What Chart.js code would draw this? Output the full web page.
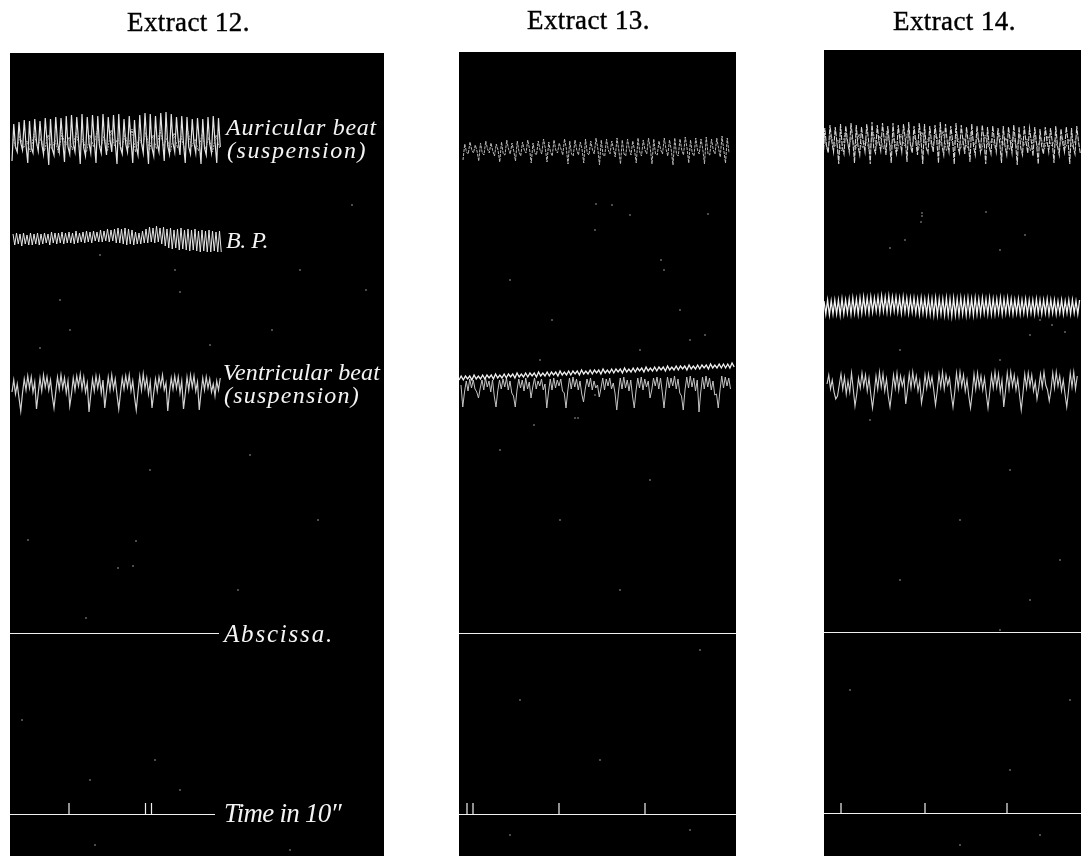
<!DOCTYPE html>
<html>
<head>
<meta charset="utf-8">
<title>Extracts 12, 13, 14</title>
<script src="https://cdn.jsdelivr.net/npm/chart.js@4"></script>
<style>
  html, body { margin: 0; padding: 0; background: #fff; overflow: hidden; }
  canvas { position: absolute; top: 0; }
</style>
</head>
<body>
<canvas id="extract12" width="374" height="856" style="left:10px"></canvas>
<canvas id="extract13" width="277" height="856" style="left:459px"></canvas>
<canvas id="extract14" width="257" height="856" style="left:824px"></canvas>
<script>
// all values, y is the height on the plate (down = bigger)

// Extract 12
const auricular12 = [161,124,147,152,122,143,150,120,145,163,121,148,153,119,142,151,121,144,154,118,141,165,119,149,155,117,143,152,118,141,162,116,147,154,115,144,152,117,140,164,114,148,156,117,143,153,115,141,163,116,146,153,114,142,155,117,139,152,115,143,164,114,148,154,119,144,152,116,141,163,120,147,155,115,143,153,113,141,164,114,148,156,116,144,152,113,140,161,112,146,154,114,143,152,117,141,155,116,144,163,117,147,154,119,143,153,118,141,164,119,148,155,117,144,153,116,142,163,118,147];
// the second, fainter line running through the middle of the auricular band
const auricularInner12 = [139,150,136,148,141,152,134,147,138,151,135,149,140,153,133,146,137,150,132,148,139,152,135,147,131,149,136,151,130,146,138,150,134,148,129,152,137,147,132,150,135,149,130,146,138,152,133,148,136,150,131,147,139,151,134,149,137,152,135,148];
const pressure12 = [234,245,233,244,234,246,233,244,235,245,233,245,234,244,233,245,234,244,233,243,234,245,232,243,233,244,233,243,232,244,233,243,232,243,233,244,231,243,233,242,232,243,231,242,232,243,231,241,232,242,230,242,231,241,229,242,230,241,229,243,228,243,229,244,228,245,229,244,230,245,232,244,233,244,231,243,229,243,227,242,228,243,226,242,228,244,227,246,229,248,228,249,230,248,229,250,228,249,230,250,229,251,230,250,229,251,231,252,230,251,231,252,230,252,231,251,232,252,231,252];
const ventricular12 = [392,380,394,384,398,411,393,379,390,376,388,377,392,382,409,393,378,391,375,387,377,390,380,396,408,392,377,389,375,388,378,393,381,406,394,378,390,376,386,374,389,377,392,383,412,395,379,391,376,388,377,393,380,408,392,377,390,375,389,379,395,409,393,378,389,376,387,375,391,381,397,410,392,376,390,374,388,378,394,382,408,393,379,391,377,386,375,390,383,411,392,378,389,376,388,377,393,381,409,394,377,390,375,387,376,391,382,410,393,378,390,377,388,379,392,384,396,381,390,378];
const ticks12 = [69, 145.5, 151.5];
const specks12 = [[118,568],[133,566],[136,541],[60,300],[180,292],[100,255],[300,270],[70,330],[175,270],[210,345],[40,348],[86,618],[28,540],[250,455],[318,520],[150,470],[272,330],[352,205],[366,290],[90,780],[95,845],[180,790],[290,850],[238,590],[22,720],[155,760]];

// Extract 13
const auricular13 = [160,144,152,154,142,150,153,145,151,161,143,153,155,141,149,153,143,151,156,144,150,162,142,154,155,140,149,154,143,151,161,141,152,156,142,150,153,140,149,163,143,153,155,141,150,154,139,148,162,142,152,156,140,150,153,143,149,155,139,148,164,141,154,156,140,150,155,142,149,163,139,153,155,141,150,154,138,148,165,140,155,156,139,150,154,141,149,157,138,150,164,140,154,156,139,149,155,141,150,163,138,152,156,140,150,154,138,148,164,139,154,155,141,150,154,138,149,156,140,150,165,138,154,156,139,150,155,137,148,163,140,153,156,138,150,154,139,149,164,137,154,155,139,150,154,138,148,157,136,150,163,138,153];
const pressure13 = [380,376,380,376,379,376,380,375,379,376,379,375,379,375,378,375,379,374,378,375,378,374,378,374,377,374,378,373,377,374,377,373,377,373,376,373,377,372,376,373,376,372,376,372,375,372,376,371,375,372,375,371,375,371,374,371,375,370,374,371,374,370,374,370,373,370,374,369,373,370,373,369,373,369,372,369,373,368,372,369,372,368,372,368,371,368,372,367,371,368,371,367,371,367,370,367,371,366,370,367,370,366,370,366,369,366,370,365,369,366,369,365,369,365,368,365,369,364,368,365,368,364,368,364,368,364,368,363,367];
const ventricular13 = [385,407,392,381,391,379,388,380,389,392,398,388,380,390,378,387,381,392,380,396,407,391,380,389,379,387,378,390,381,393,396,407,390,379,388,380,391,378,389,382,398,387,378,389,381,386,379,390,384,408,392,379,390,378,388,380,386,379,391,393,408,391,378,389,377,387,379,390,381,394,402,389,379,387,378,390,381,388,385,397,388,378,390,379,386,378,389,383,393,410,392,378,389,377,388,380,391,380,396,408,391,378,388,377,390,379,387,381,398,390,378,386,377,389,378,392,408,391,377,388,378,386,376,389,379,393,396,410,390,377,388,376,387,378,391,380,412,392,377,389,376,387,378,390,381,395,394,408,390,376,388,377,386,378,389];
const ticks13 = [467, 473, 559, 645];
const specks13 = [[575,418],[578,418],[595,395],[534,425],[612,205],[596,204],[595,230],[630,215],[708,214],[552,320],[510,280],[661,260],[664,270],[680,310],[705,335],[690,340],[640,350],[540,360],[500,450],[560,520],[650,480],[620,590],[700,650],[520,700],[600,760],[690,830],[510,835]];

// Extract 14
const auricular14 = [162,128,146,153,125,141,152,127,143,164,124,147,154,126,141,152,123,140,163,125,146,155,127,142,152,124,140,164,122,148,153,125,142,151,123,140,155,126,143,163,123,147,154,125,141,152,124,139,162,122,146,153,126,141,155,123,140,164,124,148,153,126,142,152,125,140,163,122,146,155,124,142,152,126,140,164,123,147,153,125,141,154,127,143,162,124,146,155,126,142,152,125,140,164,127,147,154,126,141,152,128,143,163,126,146,155,127,141,153,125,142,165,127,148,155,126,142,153,128,141,156,127,143,164,129,147,154,127,141,152,128,142,163,126,146,155,129,143,152,127,141,164,128,147,154,126,142,153];
const auricularInner14 = [138,149,135,147,140,151,133,146,137,150,134,148,139,152,132,146,136,149,131,147,138,151,134,146,130,148,135,150,132,145,137,149,133,147,131,151,136,146,134,149,138,148,132,145,137,151,135,147,139,149,133,146,138,150,136,148,134,146,139,151,135,147,138,149,136,146,140,150,137,148,139,147,138];
const pressure14 = [301,314,300,315,301,314,300,314,300,315,299,314,300,313,299,314,298,313,299,314,298,313,297,312,298,313,297,312,298,311,297,312,296,311,297,312,296,312,297,311,297,312,298,313,297,312,298,313,298,312,298,313,299,314,298,313,299,314,298,314,299,315,298,315,299,314,299,315,298,315,299,316,298,315,299,315,298,314,299,315,298,314,299,315,298,314,299,314,298,313,299,314,298,314,299,314,299,313,298,314,299,313,298,313,299,314,300,313,299,314,300,313,299,314,300,313,300,314,299,313,300,314,300,313,299,314,300,313,300,314,301,313,300,314,301,313,300,314,300,313,301,314,300];
const ventricular14 = [384,375,389,380,392,399,396,385,374,389,377,394,381,392,373,389,406,394,378,388,373,386,375,391,378,394,408,393,376,389,372,387,374,391,379,396,407,392,375,388,373,390,376,386,378,404,390,374,388,372,386,376,391,381,403,392,375,388,374,386,377,390,405,391,374,387,372,389,375,385,378,394,407,392,373,388,372,386,375,391,380,396,408,393,374,389,373,387,376,390,378,394,408,392,375,388,372,387,374,392,380,407,391,373,389,372,386,375,390,379,395,410,393,374,388,373,386,375,391,382,399,388,374,387,372,385,390,401,390,373,388,372,386,376,391,380,394,407,391,373,387,372,389,376];
const ticks14 = [841, 925, 1007];
const specks14 = [[922,213],[922,216],[921,222],[905,240],[986,212],[1000,250],[1025,235],[890,248],[900,350],[1040,320],[1052,325],[1030,335],[1065,332],[1000,360],[1030,600],[870,420],[1010,470],[960,520],[1060,560],[900,580],[1000,630],[1070,700],[850,690],[1010,770],[960,845],[1040,835]];

const title12 = 'Extract 12.';
const title13 = 'Extract 13.';
const title14 = 'Extract 14.';
const texts12 = ['Auricular beat', '(suspension)', 'B. P.', 'Ventricular beat', '(suspension)', 'Abscissa.', 'Time in 10\u2033'];
const textX12 = [226, 227, 226, 223, 224, 224, 224];
const textY12 = [135, 158, 248, 380, 403, 642, 822];

const lettering12 = [
  { size: 24, width: 151 }, { size: 24, width: 140 }, { size: 24, width: 42 }, { size: 24, width: 157 },
  { size: 24, width: 136 }, { size: 25, width: 110 }, { size: 27, width: 117 }
];

const serif = '"Liberation Serif", serif';

// black plate behind the traces, and the lettering on top
const platePlugin = {
  id: 'plate',
  beforeDraw(chart) {
    const a = chart.chartArea;
    chart.ctx.fillStyle = '#000';
    chart.ctx.fillRect(a.left, a.top, a.right - a.left, a.bottom - a.top);
  },
  afterDraw(chart, args, opts) {
    const c = chart.ctx, sx = chart.scales.x, sy = chart.scales.y;
    c.save();
    c.textBaseline = 'alphabetic';
    c.fillStyle = '#000';
    c.strokeStyle = '#000';
    c.lineWidth = 0.4;
    c.font = '27px ' + serif;
    c.letterSpacing = '0.4px';
    const tx = sx.getPixelForValue(opts.titleX), ty = sy.getPixelForValue(opts.titleY);
    c.fillText(opts.title, tx, ty);
    c.strokeText(opts.title, tx, ty);
    c.fillStyle = '#f4f4f4';
    (opts.texts || []).forEach((t, i) => {
      const l = opts.lettering[i];
      c.font = 'italic ' + l.size + 'px ' + serif;
      c.letterSpacing = '0px';
      // spread the letters to the width they have on the plate
      c.letterSpacing = ((l.width - c.measureText(t).width) / t.length) + 'px';
      c.fillText(t, sx.getPixelForValue(opts.textX[i]), sy.getPixelForValue(opts.textY[i]));
    });
    c.restore();
  }
};

function trace(values, start, step, color, width, dash) {
  return {
    data: values.map((v, i) => ({ x: start + i * step, y: v })),
    borderColor: color,
    borderWidth: width,
    borderDash: dash || [],
    pointRadius: 0,
    tension: 0
  };
}

function timeLine(ticks, left, right, y, top) {
  const pts = [{ x: left, y: y }];
  ticks.forEach(t => {
    pts.push({ x: t, y: y }, { x: t, y: top }, { x: t, y: y });
  });
  pts.push({ x: right, y: y });
  return { data: pts, borderColor: '#f0f0f0', borderWidth: 1.2, pointRadius: 0, tension: 0 };
}

function flatLine(left, right, y) {
  return { data: [{ x: left, y: y }, { x: right, y: y }], borderColor: '#f0f0f0', borderWidth: 1.2, pointRadius: 0 };
}

function dots(specks) {
  return {
    data: specks.map(p => ({ x: p[0], y: p[1] })),
    showLine: false,
    pointRadius: 0.8,
    pointBorderWidth: 0,
    pointBackgroundColor: '#aaa'
  };
}

function draw(id, left, right, top, datasets, labels) {
  new Chart(document.getElementById(id), {
    type: 'line',
    data: { datasets: datasets },
    plugins: [platePlugin],
    options: {
      responsive: false,
      animation: false,
      events: [],
      layout: { autoPadding: false, padding: { top: top, left: 0, right: 0, bottom: 0 } },
      scales: {
        x: { type: 'linear', display: false, min: left, max: right },
        y: { type: 'linear', display: false, reverse: true, min: top, max: 856 }
      },
      plugins: {
        legend: { display: false },
        tooltip: { enabled: false },
        plate: labels
      }
    }
  });
}

draw('extract12', 10, 384, 53, [
  dots(specks12),
  trace(auricularInner12, 13, 3.5, '#b4b4b4', 1, [2, 1]),
  trace(auricular12, 12, 1.75, '#e4e4e4', 1.2),
  trace(pressure12, 13, 1.75, '#e6e6e6', 1),
  trace(ventricular12, 12, 1.75, '#d2d2d2', 1.2),
  flatLine(10, 219, 633.5),
  timeLine(ticks12, 10, 215, 814.5, 803)
], { title: title12, titleX: 127, titleY: 31, texts: texts12, textX: textX12, textY: textY12, lettering: lettering12 });

draw('extract13', 459, 736, 52, [
  dots(specks13),
  trace(auricular13, 463, 1.75, '#b8b8b8', 1, [3, 1]),
  trace(pressure13, 459, 2.15, '#f2f2f2', 1.3),
  trace(ventricular13, 461, 1.75, '#c4c4c4', 1),
  flatLine(459, 736, 633.5),
  timeLine(ticks13, 459, 736, 814.5, 803)
], { title: title13, titleX: 527, titleY: 29 });

draw('extract14', 824, 1081, 50, [
  dots(specks14),
  trace(auricularInner14, 824, 3.5, '#a8a8a8', 1, [2, 1]),
  trace(auricular14, 823, 1.75, '#d4d4d4', 1.1, [5, 1]),
  trace(pressure14, 824, 1.8, '#f2f2f2', 1.3),
  trace(ventricular14, 827, 1.75, '#d2d2d2', 1.1),
  flatLine(824, 1081, 632.5),
  timeLine(ticks14, 824, 1081, 813.5, 803)
], { title: title14, titleX: 893, titleY: 30 });
</script>
</body>
</html>
